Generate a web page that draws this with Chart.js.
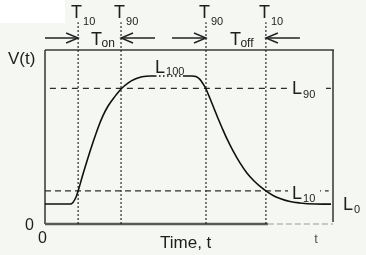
<!DOCTYPE html>
<html>
<head>
<meta charset="utf-8">
<script src="https://cdn.jsdelivr.net/npm/chart.js@4/dist/chart.umd.min.js"></script>
<style>
html,body{margin:0;padding:0;background:#f4f7f2;}
canvas{display:block;}
</style>
</head>
<body>
<canvas id="c" width="366" height="255"></canvas>
<script>
// ---- data (time and voltage in arbitrary units, 0..100) ----
const timeX   = [0, 8.7, 9.7, 10.8, 11.5, 13.2, 14.9, 16.7, 18.4, 20.1, 21.9, 24.0, 26.4, 28.8, 31.3, 33.7, 36.5, 38.2,
                 47.9, 51.0, 52.4, 53.8, 54.9, 55.9, 57.3, 58.7, 60.1, 61.5, 63.2, 65.3, 67.7, 70.1, 72.6, 74.7, 76.7,
                 79.2, 81.6, 85.1, 88.5, 93.8, 99.3];
const voltage = [11.5, 11.5, 12.4, 15.5, 19.0, 28.7, 37.9, 47.1, 55.2, 62.1, 67.8, 72.7, 77.6, 81.0, 83.3, 84.6, 85.1, 85.1,
                 85.1, 85.1, 84.8, 83.1, 80.5, 77.6, 72.1, 66.4, 60.6, 55.2, 48.9, 42.0, 35.1, 29.3, 24.7, 21.6, 19.0,
                 16.4, 14.7, 12.9, 12.1, 11.5, 11.4];
const dottedSegmentStart = 17; // plateau segment drawn dotted
const levelNames  = ['0', '10', '90', '100'];
const levelValues = [11.5, 19, 78, 85.1];
const markerSubs  = ['10', '90', '90', '10'];
const markerX     = [11.5, 26.4, 55.9, 76.7];
const intervalNames = ['on', 'off'];
const markerTop = 116;

const curve = timeX.map((x, i) => ({x: x, y: voltage[i]}));
const vLines = markerX.map(x => ({
  data: [{x: x, y: 0}, {x: x, y: markerTop}],
  borderColor: '#1a1a1a', borderWidth: 1.1, borderDash: [2, 2],
  pointRadius: 0, clip: false, order: 3
}));
const hLines = [
  {data: [{x: 0, y: levelValues[1]}, {x: 98.5, y: levelValues[1]}], borderDash: [6, 4]},
  {data: [{x: 1.7, y: levelValues[2]}, {x: 100, y: levelValues[2]}], borderDash: [6, 5]}
].map(d => Object.assign(d, {borderColor: '#2e2e2e', borderWidth: 1.3, pointRadius: 0, clip: false, order: 2}));

const FONT = '"Liberation Sans", Arial, sans-serif';

const drawer = {
  id: 'drawer',
  beforeDraw(chart) {
    const c = chart.ctx;
    c.save();
    c.fillStyle = '#f4f7f2';
    c.fillRect(0, 0, chart.width, chart.height);
    c.fillStyle = '#ffffff';
    c.fillRect(0, 0, 65, 23);
    c.restore();
  },
  beforeDatasetsDraw(chart) {
    const c = chart.ctx, a = chart.chartArea, xs = chart.scales.x;
    c.save();
    c.lineCap = 'butt';
    c.strokeStyle = '#6a6a6a'; c.lineWidth = 2;
    c.beginPath(); c.moveTo(a.left, a.top); c.lineTo(a.right + 1, a.top); c.stroke();
    c.strokeStyle = '#333'; c.lineWidth = 1.5;
    c.beginPath(); c.moveTo(a.left, a.top); c.lineTo(a.left, a.bottom); c.stroke();
    c.beginPath(); c.moveTo(a.right, a.top); c.lineTo(a.right, a.bottom - 2); c.stroke();
    const split = xs.getPixelForValue(markerX[3]) + 2;
    c.strokeStyle = '#5a5a5a'; c.lineWidth = 2.5;
    c.beginPath(); c.moveTo(a.left, a.bottom); c.lineTo(split, a.bottom); c.stroke();
    c.strokeStyle = '#b8bab6'; c.lineWidth = 1.5; c.setLineDash([6, 3]);
    c.beginPath(); c.moveTo(split, a.bottom); c.lineTo(a.right, a.bottom); c.stroke();
    c.restore();
  },
  afterDatasetsDraw(chart) {
    const c = chart.ctx, a = chart.chartArea, xs = chart.scales.x, ys = chart.scales.y;
    const bg = '#f4f7f2';
    c.save();
    c.fillStyle = '#1e1e1e';
    c.textBaseline = 'alphabetic';
    const txt = (s, x, y, size, align) => {
      c.font = size + 'px ' + FONT; c.textAlign = align || 'left'; c.fillText(s, x, y);
      return c.measureText(s).width;
    };
    txt('V(t)', 8, 64, 17);
    txt('0', 25, 230, 16);
    txt('0', 38, 243, 16);
    txt('Time, t', 160, 248, 17);
    c.fillStyle = '#555';
    txt('t', 316, 243, 13, 'center');
    c.fillStyle = '#1e1e1e';

    markerX.forEach((m, i) => {
      const px = xs.getPixelForValue(m) - 1.5;
      txt('T', px, 18, 18, 'center');
      c.font = '18px ' + FONT;
      const w = c.measureText('T').width;
      txt(markerSubs[i], px + w / 2 + 1, 25, 11);
    });

    const ay = 38;
    const arrow = (tail, tip) => {
      const dir = Math.sign(tip - tail);
      c.strokeStyle = '#222'; c.lineWidth = 1.4;
      c.beginPath(); c.moveTo(tail, ay); c.lineTo(tip, ay); c.stroke();
      c.beginPath(); c.moveTo(tip - dir * 12, ay - 5); c.lineTo(tip, ay); c.lineTo(tip - dir * 12, ay + 5); c.stroke();
    };
    const p = markerX.map(m => xs.getPixelForValue(m));
    arrow(a.left, p[0]);
    arrow(p[1] + 34, p[1]);
    arrow(p[2] - 34, p[2]);
    arrow(p[3] + 34, p[3]);

    const tcenter = [(p[0] + p[1]) / 2 - 3, (p[2] + p[3]) / 2 - 0.5];
    tcenter.forEach((cx, i) => {
      txt('T', cx, 45, 18, 'center');
      c.font = '18px ' + FONT;
      const w = c.measureText('T').width;
      txt(intervalNames[i], cx + w / 2 - 0.5, 47, 12);
    });

    const level = (i, x, base, subBase, gapL, gapR) => {
      if (gapL !== undefined) {
        const ly = ys.getPixelForValue(levelValues[i]);
        c.fillStyle = bg; c.fillRect(gapL, ly - 2, gapR - gapL, 4);
        c.fillStyle = '#1e1e1e';
      }
      const w = txt('L', x, base, 18);
      txt(levelNames[i], x + w + 1, subBase, 11);
    };
    const y0 = ys.getPixelForValue(levelValues[0]);
    const y1 = ys.getPixelForValue(levelValues[1]);
    const y2 = ys.getPixelForValue(levelValues[2]);
    const y3 = ys.getPixelForValue(levelValues[3]);
    level(0, a.right + 10, y0 + 6, y0 + 9);
    level(1, 292, y1 + 8, y1 + 11, 288, 320);
    level(2, 292, y2 + 6, y2 + 10, 288, 326);
    level(3, 155, y3 - 3, y3 - 1);
    c.restore();
  }
};

new Chart(document.getElementById('c'), {
  type: 'line',
  data: {
    datasets: [
      {
        data: curve,
        borderColor: '#111', borderWidth: 1.6,
        cubicInterpolationMode: 'monotone',
        pointRadius: 0, order: 1,
        segment: {
          borderDash: ctx => ctx.p0DataIndex === dottedSegmentStart ? [1.5, 2.5] : undefined
        }
      },
      ...hLines,
      ...vLines
    ]
  },
  options: {
    responsive: false,
    animation: false,
    devicePixelRatio: 1,
    layout: {padding: {left: 45, top: 50, right: 33, bottom: 31}},
    plugins: {legend: {display: false}, tooltip: {enabled: false}},
    scales: {
      x: {type: 'linear', min: 0, max: 100, display: false},
      y: {type: 'linear', min: 0, max: 100, display: false}
    }
  },
  plugins: [drawer]
});
</script>
</body>
</html>
